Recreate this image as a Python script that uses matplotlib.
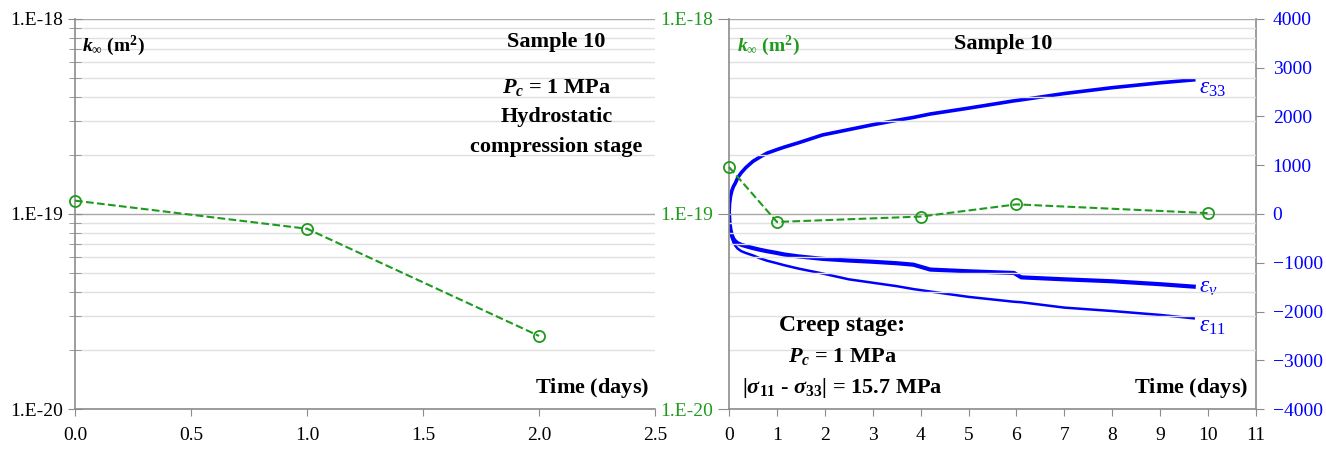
import math
import matplotlib
matplotlib.use("Agg")
import matplotlib.pyplot as plt
from matplotlib.ticker import FixedLocator, LogLocator, NullFormatter, FuncFormatter

plt.rcParams['font.family'] = ['Liberation Serif', 'DejaVu Serif']
plt.rcParams['mathtext.fontset'] = 'custom'
plt.rcParams['mathtext.rm'] = 'Liberation Serif'
plt.rcParams['mathtext.it'] = 'Liberation Serif:italic'
plt.rcParams['mathtext.bf'] = 'Liberation Serif:bold'
plt.rcParams['mathtext.bfit'] = 'Liberation Serif:bold:italic'

GREEN = '#1f9a1f'
BLUE = '#0000ff'
GRAY = '#8c8c8c'

# hydrostatic stage permeability
hydro_days = [0.0, 1.0, 2.0]
hydro_k = [1.17e-19, 8.4e-20, 2.37e-20]

# creep stage permeability
creep_days = [0, 1, 4, 6, 10]
creep_k = [1.74e-19, 9.1e-20, 9.7e-20, 1.12e-19, 1.01e-19]

# creep strains (microstrain)
strain_days = [0, 0.01, 0.03, 0.06, 0.09, 0.13, 0.18, 0.25, 0.35, 0.5, 0.65, 0.8, 1.0, 1.15, 1.45, 1.95,
               2.5, 3, 3.5, 3.85, 4.2, 5, 5.95, 6.1, 7, 8, 9, 9.7]
eps33 = [0, 200, 360, 480, 560, 630, 740, 840, 950, 1080, 1170, 1250, 1320, 1370, 1460, 1620,
         1730, 1830, 1920, 1980, 2050, 2170, 2320, 2340, 2470, 2590, 2690, 2750]
eps_v = [0, -180, -320, -440, -510, -560, -600, -630, -660, -700, -735, -765, -800, -830, -870, -920,
         -955, -980, -1010, -1040, -1140, -1175, -1210, -1300, -1340, -1380, -1440, -1490]
eps11 = [0, -190, -350, -490, -580, -650, -710, -760, -800, -850, -910, -960, -1010, -1050, -1120, -1220,
         -1340, -1410, -1480, -1540, -1590, -1700, -1800, -1810, -1920, -1990, -2070, -2140]

fig = plt.figure(figsize=(13.26, 4.5), dpi=100)
ax1 = fig.add_axes([0.0566, 0.091, 0.4374, 0.867])
ax2 = fig.add_axes([0.5498, 0.091, 0.3974, 0.867])


def sci_label(v, pos):
    return "1.E%d" % round(math.log10(v))


for ax, lab_color in ((ax1, 'black'), (ax2, GREEN)):
    ax.set_yscale('log')
    ax.set_ylim(1e-20, 1e-18)
    ax.yaxis.set_major_locator(FixedLocator([1e-20, 1e-19, 1e-18]))
    ax.yaxis.set_major_formatter(FuncFormatter(sci_label))
    ax.yaxis.set_minor_locator(LogLocator(base=10, subs=range(2, 10)))
    ax.yaxis.set_minor_formatter(NullFormatter())
    ax.grid(True, which='minor', axis='y', color='#e0e0e0', lw=1.0)
    ax.grid(True, which='major', axis='y', color='#a8a8a8', lw=1.0)
    for s in ('top', 'right'):
        ax.spines[s].set_visible(False)
    for s in ('left', 'bottom'):
        ax.spines[s].set_color(GRAY)
        ax.spines[s].set_linewidth(1.2)
    ax.tick_params(axis='both', which='major', labelsize=14, color=GRAY)
    ax.tick_params(axis='y', labelcolor=lab_color)
    ax.set_axisbelow(True)

ax1.tick_params(axis='y', which='major', direction='inout', length=10)
ax1.tick_params(axis='y', which='minor', direction='inout', length=8, color=GRAY)
ax2.tick_params(axis='y', which='major', direction='out', length=8)
ax2.tick_params(axis='y', which='minor', length=0)
for ax in (ax1, ax2):
    ax.tick_params(axis='x', direction='out', length=5, pad=8)

# left panel
ax1.plot(hydro_days, hydro_k, ls='--', color=GREEN, lw=1.5, marker='o', ms=8, mfc='none', mec=GREEN, mew=1.3,
         clip_on=False, zorder=5)
ax1.set_xlim(0, 2.5)
ax1.set_xticks([0, 0.5, 1.0, 1.5, 2.0, 2.5])
ax1.xaxis.set_major_formatter(FuncFormatter(lambda v, p: "%.1f" % v))

ax1.text(0.012, 0.93, r'$\mathbfit{k}_{\infty}$ (m$\mathbf{^2}$)', transform=ax1.transAxes, fontsize=14,
         fontweight='bold', va='center', ha='left')
ax1.text(0.83, 0.94, 'Sample 10', transform=ax1.transAxes, fontsize=16, fontweight='bold', ha='center', va='center')
ax1.text(0.83, 0.825, r'$\mathbfit{P}_{\mathbfit{c}}$ = 1 MPa', transform=ax1.transAxes, fontsize=16,
         fontweight='bold', ha='center', va='center')
ax1.text(0.83, 0.748, 'Hydrostatic', transform=ax1.transAxes, fontsize=16, fontweight='bold', ha='center',
         va='center')
ax1.text(0.83, 0.671, 'compression stage', transform=ax1.transAxes, fontsize=16, fontweight='bold', ha='center',
         va='center')
ax1.text(0.99, 0.055, r'Time $\mathbf{(days)}$', transform=ax1.transAxes, fontsize=16, fontweight='bold',
         ha='right', va='center')

# right panel
ax2.plot(creep_days, creep_k, ls='--', color=GREEN, lw=1.5, marker='o', ms=8, mfc='none', mec=GREEN, mew=1.3,
         clip_on=False, zorder=5)
ax2.set_xlim(0, 11)
ax2.set_xticks(range(0, 12))

ax3 = ax2.twinx()
ax3.set_ylim(-4000, 4000)
ax3.set_yticks(range(-4000, 4001, 1000))
for s in ('top', 'left', 'bottom'):
    ax3.spines[s].set_visible(False)
ax3.spines['right'].set_color(GRAY)
ax3.spines['right'].set_linewidth(1.2)
ax3.tick_params(axis='y', labelsize=14, labelcolor=BLUE, color=GRAY, direction='out', length=6, pad=6)
ax3.plot(strain_days, eps33, color=BLUE, lw=2.6, solid_joinstyle='round')
ax3.plot(strain_days, eps_v, color=BLUE, lw=3.0, solid_joinstyle='round')
ax3.plot(strain_days, eps11, color=BLUE, lw=1.8, solid_joinstyle='round')
ax2.set_zorder(ax3.get_zorder() + 1)
ax2.patch.set_visible(False)

ax3.text(9.8, 2580, r'$\varepsilon_{33}$', color=BLUE, fontsize=17, ha='left', va='center')
ax3.text(9.8, -1500, r'$\varepsilon_{v}$', color=BLUE, fontsize=17, ha='left', va='center')
ax3.text(9.8, -2300, r'$\varepsilon_{11}$', color=BLUE, fontsize=17, ha='left', va='center')

ax2.text(0.015, 0.93, r'$\mathbfit{k}_{\infty}$ (m$\mathbf{^2}$)', transform=ax2.transAxes, fontsize=14,
         fontweight='bold', color=GREEN, va='center', ha='left')
ax2.text(0.52, 0.935, 'Sample 10', transform=ax2.transAxes, fontsize=16, fontweight='bold', ha='center',
         va='center')
ax2.text(0.215, 0.215, 'Creep stage:', transform=ax2.transAxes, fontsize=17, fontweight='bold', ha='center',
         va='center')
ax2.text(0.215, 0.135, r'$\mathbfit{P}_{\mathbfit{c}}$ = 1 MPa', transform=ax2.transAxes, fontsize=16,
         fontweight='bold', ha='center', va='center')
ax2.text(0.215, 0.055, r'|$\mathbfit{\sigma}_{\mathbf{11}}$ - $\mathbfit{\sigma}_{\mathbf{33}}$| = 15.7 MPa',
         transform=ax2.transAxes, fontsize=16, fontweight='bold', ha='center', va='center')
ax2.text(0.985, 0.055, r'Time $\mathbf{(days)}$', transform=ax2.transAxes, fontsize=16, fontweight='bold',
         ha='right', va='center')

fig.savefig('out.png', dpi=100)
